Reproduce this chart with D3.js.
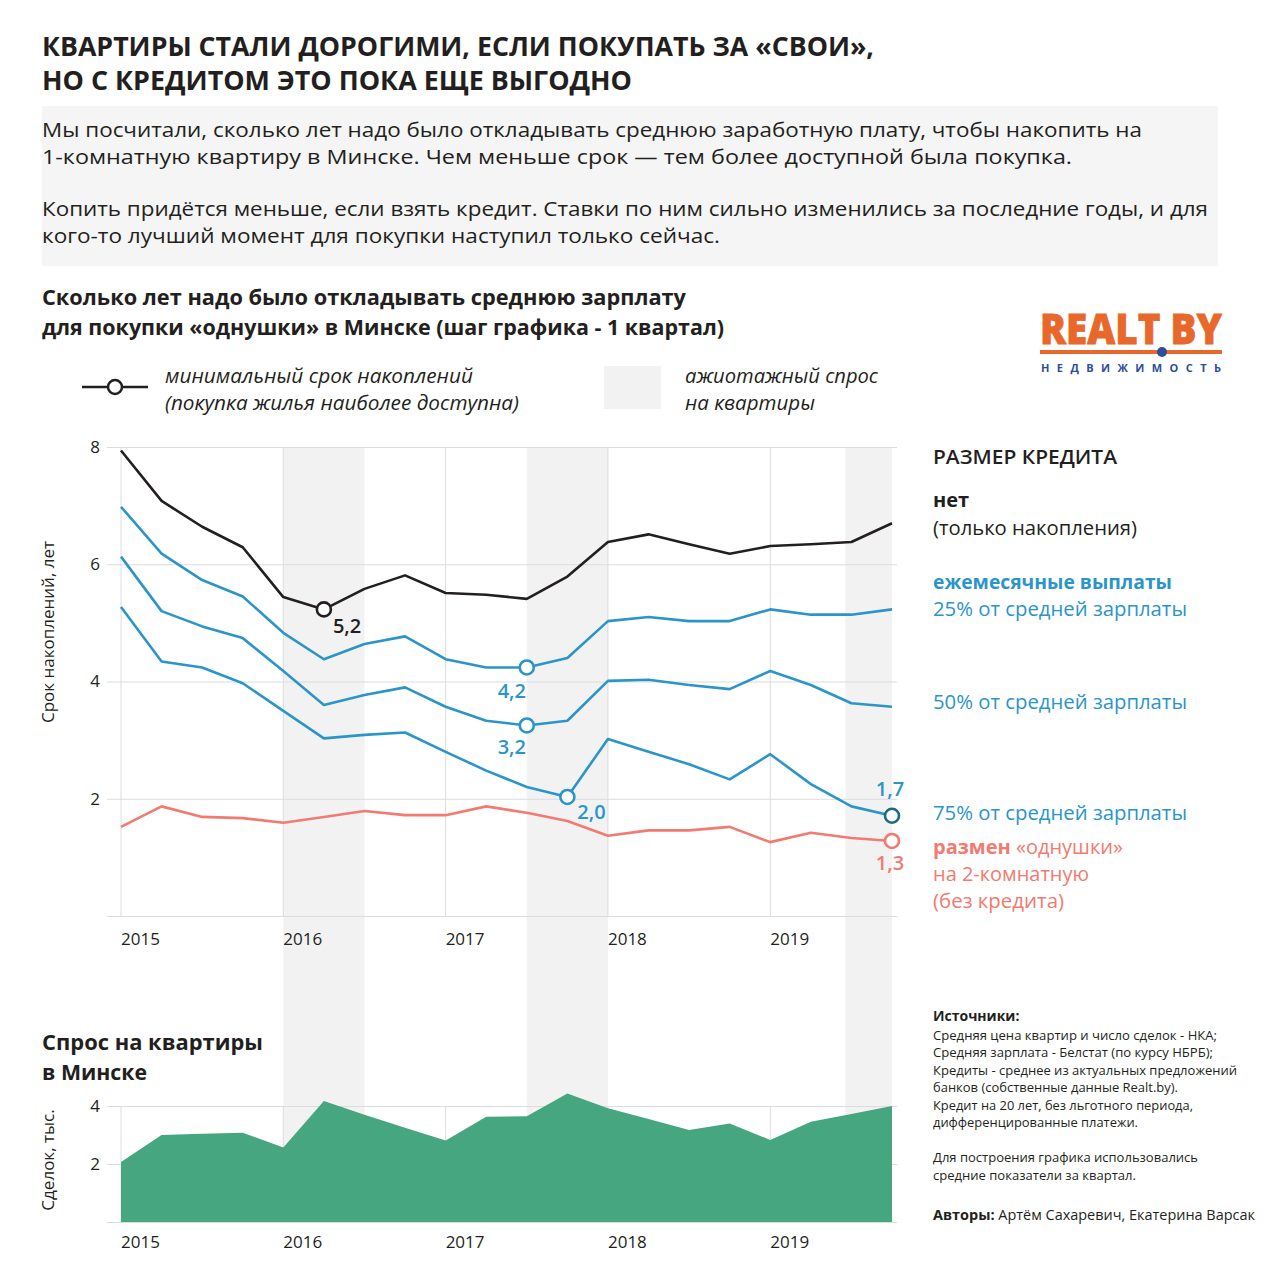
<!DOCTYPE html>
<html>
<head>
<meta charset="utf-8">
<script src="https://cdn.jsdelivr.net/npm/d3@7"></script>
<style>
  body { margin: 0; background: #fff; }
  text { font-family: "Open Sans", "Noto Sans", sans-serif; }
</style>
</head>
<body>
<div id="chart"></div>
<script>
// quarters 2015 Q1 .. 2019 Q4
const quarters = ["2015-1","2015-2","2015-3","2015-4","2016-1","2016-2","2016-3","2016-4",
                  "2017-1","2017-2","2017-3","2017-4","2018-1","2018-2","2018-3","2018-4",
                  "2019-1","2019-2","2019-3","2019-4"];
const yearLabels = ["2015", "2016", "2017", "2018", "2019"];
const yearStarts = ["2015-1", "2016-1", "2017-1", "2018-1", "2019-1"];

// years of saving needed
const noCredit = [7.94,7.08,6.64,6.29,5.44,5.23,5.58,5.81,5.51,5.48,5.41,5.79,6.38,6.51,6.34,6.18,6.31,6.34,6.38,6.70];
const pay25    = [6.98,6.18,5.73,5.45,4.83,4.38,4.64,4.77,4.38,4.24,4.24,4.40,5.03,5.10,5.03,5.03,5.23,5.14,5.14,5.23];
const pay50    = [6.13,5.20,4.94,4.74,4.18,3.60,3.77,3.90,3.57,3.33,3.25,3.33,4.01,4.03,3.94,3.87,4.18,3.94,3.63,3.57];
const pay75    = [5.27,4.34,4.24,3.97,3.50,3.03,3.09,3.13,2.80,2.48,2.20,2.03,3.02,2.80,2.59,2.33,2.76,2.25,1.87,1.71];
const swap     = [1.52,1.87,1.69,1.67,1.59,1.69,1.79,1.72,1.72,1.87,1.76,1.62,1.37,1.46,1.46,1.52,1.26,1.42,1.33,1.28];

// deals, thousands
const deals = [2.07,3.00,3.04,3.08,2.57,4.17,3.70,3.25,2.81,3.63,3.65,4.43,3.92,3.55,3.17,3.40,2.83,3.46,3.72,4.00];

// rush-demand periods (quarter index from / to)
const rushBands = [[4, 6], [10, 12], [17.85, 19]];

const mainTicks = [2, 4, 6, 8];
const dealTicks = [2, 4];

// minimum points: series, quarter, label
const minima = [
  {s: "noCredit", q: "2016-2", label: "5,2"},
  {s: "pay25", q: "2017-3", label: "4,2"},
  {s: "pay50", q: "2017-3", label: "3,2"},
  {s: "pay75", q: "2017-4", label: "2,0"},
  {s: "pay75", q: "2019-4", label: "1,7"},
  {s: "swap", q: "2019-4", label: "1,3"}
];

const C = {
  black: "#231f20", blue: "#2b95c9", red: "#f27a70", green: "#46a680",
  teal: "#1b6c7c", band: "#f3f2f3", grid: "#dcdcdc", orange: "#e8672b", navy: "#2c4e9e"
};

const W = 1280, H = 1280;
const svg = d3.select("#chart").append("svg").attr("width", W).attr("height", H);

function txt(g, x, y, s, o) {
  o = o || {};
  const t = g.append("text")
    .attr("x", x).attr("y", y)
    .attr("font-size", o.size || 20)
    .attr("font-weight", o.weight || "normal")
    .attr("font-style", o.style || "normal")
    .attr("fill", o.fill || C.black)
    .attr("text-anchor", o.anchor || "start")
    .text(s);
  if (o.w) t.attr("textLength", o.w).attr("lengthAdjust", o.adjust || "spacingAndGlyphs");
  return t;
}

// ---- header
txt(svg, 42, 56, "КВАРТИРЫ СТАЛИ ДОРОГИМИ, ЕСЛИ ПОКУПАТЬ ЗА «СВОИ»,", {size: 27, weight: "bold", w: 832});
txt(svg, 42, 90, "НО С КРЕДИТОМ ЭТО ПОКА ЕЩЕ ВЫГОДНО", {size: 27, weight: "bold", w: 590});

svg.append("rect").attr("x", 42).attr("y", 106).attr("width", 1176).attr("height", 160).attr("fill", "#f5f5f5");
txt(svg, 42, 137, "Мы посчитали, сколько лет надо было откладывать среднюю заработную плату, чтобы накопить на", {size: 20.5, w: 1100});
txt(svg, 42, 164, "1-комнатную квартиру в Минске. Чем меньше срок — тем более доступной была покупка.", {size: 20.5, w: 1030});
txt(svg, 42, 216, "Копить придётся меньше, если взять кредит. Ставки по ним сильно изменились за последние годы, и для", {size: 20.5, w: 1166});
txt(svg, 42, 243, "кого-то лучший момент для покупки наступил только сейчас.", {size: 20.5, w: 678});

txt(svg, 42, 305, "Сколько лет надо было откладывать среднюю зарплату", {size: 22, weight: "bold", w: 644});
txt(svg, 42, 335, "для покупки «однушки» в Минске (шаг графика - 1 квартал)", {size: 22, weight: "bold", w: 682});

// ---- logo
const logo = svg.append("g");
txt(logo, 1040, 344, "REALT BY", {size: 43, weight: 800, fill: C.orange, w: 182})
  .attr("stroke", C.orange).attr("stroke-width", 0.8);
logo.append("rect").attr("x", 1040).attr("y", 350).attr("width", 182).attr("height", 4).attr("fill", C.orange);
logo.append("circle").attr("cx", 1162).attr("cy", 352).attr("r", 5).attr("fill", C.navy);
txt(logo, 1041, 372, "НЕДВИЖИМОСТЬ", {size: 11, weight: "bold", fill: C.navy, w: 180, adjust: "spacing"});

// ---- legend
const leg = svg.append("g");
leg.append("line").attr("x1", 82).attr("x2", 148).attr("y1", 387).attr("y2", 387)
   .attr("stroke", C.black).attr("stroke-width", 2.5);
leg.append("circle").attr("cx", 115).attr("cy", 387).attr("r", 7)
   .attr("fill", "#fff").attr("stroke", C.black).attr("stroke-width", 2.5);
txt(leg, 165, 383, "минимальный срок накоплений", {size: 20, style: "italic", w: 308});
txt(leg, 165, 410, "(покупка жилья наиболее доступна)", {size: 20, style: "italic", w: 354});
leg.append("rect").attr("x", 604).attr("y", 366).attr("width", 57).attr("height", 43).attr("fill", C.band);
txt(leg, 685, 383, "ажиотажный спрос", {size: 20, style: "italic", w: 193});
txt(leg, 685, 410, "на квартиры", {size: 20, style: "italic", w: 130});

// ---- scales
const x = d3.scaleLinear().domain([0, quarters.length - 1]).range([121, 892]);
const xq = q => x(quarters.indexOf(q));
const y = d3.scaleLinear().domain([0, 8]).range([916, 447]);
const yd = d3.scaleLinear().domain([0, 4]).range([1222, 1106]);
const gridL = 107, gridR = 897;

// rush bands through both charts
svg.append("g").selectAll("rect").data(rushBands).join("rect")
  .attr("x", d => x(d[0])).attr("width", d => x(d[1]) - x(d[0]))
  .attr("y", 447).attr("height", 1222 - 447)
  .attr("fill", C.band);

// ---- main chart
const main = svg.append("g");
main.append("g").selectAll("line").data(yearStarts).join("line")
  .attr("x1", d => xq(d)).attr("x2", d => xq(d)).attr("y1", 447).attr("y2", 916)
  .attr("stroke", C.grid);

const yAxis = main.append("g").attr("transform", `translate(${gridL},0)`)
  .call(d3.axisLeft(y).tickValues([0].concat(mainTicks)).tickSize(-(gridR - gridL)).tickPadding(7)
        .tickFormat(d => d === 0 ? "" : d));
yAxis.select(".domain").remove();
yAxis.selectAll("line").attr("stroke", C.grid);
yAxis.selectAll("text").attr("font-size", 17).attr("fill", C.black)
  .attr("font-family", "'Open Sans', sans-serif");

main.append("g").selectAll("text").data(yearStarts).join("text")
  .attr("x", d => xq(d)).attr("y", 945)
  .attr("font-size", 17).attr("fill", C.black)
  .text((d, i) => yearLabels[i]);

txt(main, 0, 0, "Срок накоплений, лет", {size: 17, anchor: "middle"})
  .attr("transform", "translate(54,632) rotate(-90)");

const series = {noCredit, pay25, pay50, pay75, swap};
const seriesColor = {noCredit: C.black, pay25: C.blue, pay50: C.blue, pay75: C.blue, swap: C.red};
const line = d3.line().x((d, i) => x(i)).y(d => y(d));

Object.keys(series).forEach(k => {
  main.append("path").datum(series[k])
    .attr("d", line).attr("fill", "none")
    .attr("stroke", seriesColor[k]).attr("stroke-width", 2.6)
    .attr("stroke-linejoin", "round");
});

// minimum markers and labels
const labelPos = {
  "5,2": {dx: 9, dy: 24, anchor: "start"},
  "4,2": {dx: -15, dy: 31, anchor: "middle"},
  "3,2": {dx: -15, dy: 29, anchor: "middle"},
  "2,0": {dx: 10, dy: 22, anchor: "start"},
  "1,7": {dx: -2, dy: -20, anchor: "middle"},
  "1,3": {dx: -2, dy: 29, anchor: "middle"}
};
minima.forEach(m => {
  const i = quarters.indexOf(m.q);
  const cx = x(i), cy = y(series[m.s][i]);
  const col = seriesColor[m.s];
  const stroke = m.label === "1,7" ? C.teal : col;
  main.append("circle").attr("cx", cx).attr("cy", cy).attr("r", 7)
    .attr("fill", "#fff").attr("stroke", stroke).attr("stroke-width", 2.6);
  const p = labelPos[m.label];
  txt(main, cx + p.dx, cy + p.dy, m.label, {size: 20, fill: col, anchor: p.anchor, weight: 600});
});

// right-hand key
const key = svg.append("g");
txt(key, 933, 464, "РАЗМЕР КРЕДИТА", {size: 20, weight: 600, w: 184});
txt(key, 933, 507, "нет", {size: 20, weight: "bold"});
txt(key, 933, 535, "(только накопления)", {size: 20, w: 204});
txt(key, 933, 589, "ежемесячные выплаты", {size: 20, weight: "bold", fill: C.blue, w: 239});
txt(key, 933, 616, "25% от средней зарплаты", {size: 20, fill: C.blue, w: 254});
txt(key, 933, 709, "50% от средней зарплаты", {size: 20, fill: C.blue, w: 254});
txt(key, 933, 820, "75% от средней зарплаты", {size: 20, fill: C.blue, w: 254});
const sw = txt(key, 933, 854, "", {size: 20, fill: C.red});
sw.append("tspan").attr("font-weight", "bold").text("размен");
sw.append("tspan").text(" «однушки»");
txt(key, 933, 881, "на 2-комнатную", {size: 20, fill: C.red, w: 156});
txt(key, 933, 908, "(без кредита)", {size: 20, fill: C.red, w: 131});

// ---- demand chart
const dem = svg.append("g");
txt(dem, 42, 1050, "Спрос на квартиры", {size: 22, weight: "bold", w: 221});
txt(dem, 42, 1080, "в Минске", {size: 22, weight: "bold", w: 105});

const dAxis = dem.append("g").attr("transform", `translate(${gridL},0)`)
  .call(d3.axisLeft(yd).tickValues(dealTicks).tickSize(-(gridR - gridL)).tickPadding(7)
        .tickFormat(d3.format("d")));
dAxis.select(".domain").remove();
dAxis.selectAll("line").attr("stroke", C.grid);
dAxis.selectAll("text").attr("font-size", 17).attr("fill", C.black)
  .attr("font-family", "'Open Sans', sans-serif");

dem.append("g").selectAll("line").data(yearStarts).join("line")
  .attr("x1", d => xq(d)).attr("x2", d => xq(d)).attr("y1", 1106).attr("y2", 1222)
  .attr("stroke", C.grid);

const area = d3.area().x((d, i) => x(i)).y0(yd(0)).y1(d => yd(d));
dem.append("path").datum(deals).attr("d", area).attr("fill", C.green);
dem.append("line").attr("x1", gridL).attr("x2", gridR).attr("y1", 1222.5).attr("y2", 1222.5)
  .attr("stroke", C.grid);

dem.append("g").selectAll("text").data(yearStarts).join("text")
  .attr("x", d => xq(d)).attr("y", 1248)
  .attr("font-size", 17).attr("fill", C.black)
  .text((d, i) => yearLabels[i]);

txt(dem, 0, 0, "Сделок, тыс.", {size: 17, anchor: "middle"})
  .attr("transform", "translate(54,1160) rotate(-90)");

// ---- sources
const src = svg.append("g");
txt(src, 933, 1021, "Источники:", {size: 14, weight: "bold"});
const srcLines = [
  ["Средняя цена квартир и число сделок - НКА;", 1040, 284],
  ["Средняя зарплата - Белстат (по курсу НБРБ);", 1057, 280],
  ["Кредиты - среднее из актуальных предложений", 1075, 304],
  ["банков (собственные данные Realt.by).", 1092, 245],
  ["Кредит на 20 лет, без льготного периода,", 1110, 260],
  ["дифференцированные платежи.", 1127, 205],
  ["Для построения графика использовались", 1162, 265],
  ["средние показатели за квартал.", 1180, 203]
];
srcLines.forEach(l => txt(src, 933, l[1], l[0], {size: 13, w: l[2]}));
const au = txt(src, 933, 1220, "", {size: 14.5, w: 322});
au.append("tspan").attr("font-weight", "bold").text("Авторы:");
au.append("tspan").text(" Артём Сахаревич, Екатерина Варсак");
</script>
</body>
</html>
